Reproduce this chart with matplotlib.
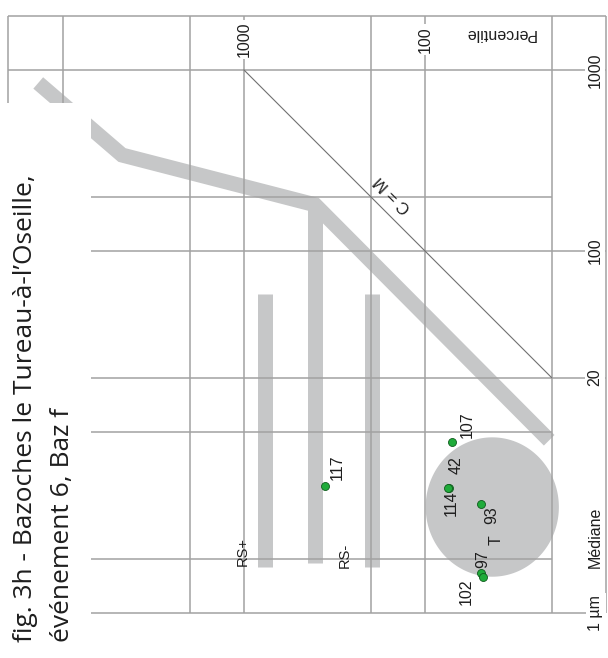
import numpy as np
import matplotlib.pyplot as plt
from matplotlib.patches import Rectangle

plt.rcParams['font.family'] = ['Liberation Sans', 'DejaVu Sans']

# Samples: one-percentile C and median M, both in µm
samples = ['107', '42', '114', '93', '97', '102', '117']
c_values = [71, 74, 75, 49, 49, 48, 357]
m_values = [8.8, 4.9, 4.9, 4.0, 1.67, 1.59, 5.0]

# Passega reference pattern
trend_c = [13700, 4720, 405, 20.6]
trend_m = [848, 339, 180, 9.0]
rs_c = [766, 405, 196]
rs_m_low = [1.80, 1.89, 1.80]
rs_m_high = [58, 180, 58]
t_center_c = 42.5
t_center_m = 3.85
t_radius_c = 0.368   # half-width of zone T, in decades
t_radius_m = 0.385

# grid
grid_c = [20000, 10000, 2000, 1000, 200, 100, 20, 10]
grid_m_full = [2000, 1000, 100, 20, 1]
grid_m_short = [200, 10, 2]
top_ticks = [1000, 100]
right_ticks = [1000, 100, 20]

grid_col = '#a2a2a2'
band_col = '#c6c7c8'
txt_col = '#1e1e1e'

fig = plt.figure(figsize=(6.08, 6.58), dpi=100)
ax = fig.add_axes([8.5 / 608, 45 / 658, 597.5 / 608, 597.5 / 658])
ax.set_xscale('log')
ax.set_yscale('log')
ax.set_xlim(20000, 10)
ax.set_ylim(1, 2000)
ax.axis('off')

# grid lines
for c in grid_c:
    ax.plot([c, c], [1, 2000], color=grid_col, lw=1.1, zorder=3,
            clip_on=False, solid_capstyle='butt')
for m in grid_m_full:
    ax.plot([20000, 10], [m, m], color=grid_col, lw=1.1, zorder=3,
            clip_on=False, solid_capstyle='butt')
for m in grid_m_short:
    ax.plot([20000, 20], [m, m], color=grid_col, lw=1.1, zorder=3,
            clip_on=False, solid_capstyle='butt')

# C = M
ax.plot([1000, 20], [1000, 20], color='#707070', lw=0.8, zorder=3)
ax.text(150, 206, 'C = M', rotation=135, ha='center', va='center',
        fontsize=12, color=txt_col, zorder=4)

# bands
ax.plot(trend_c, trend_m, color=band_col, lw=10.8, zorder=2,
        solid_capstyle='butt', solid_joinstyle='miter')
for c, lo, hi in zip(rs_c, rs_m_low, rs_m_high):
    ax.plot([c, c], [lo, hi], color=band_col, lw=10.8, zorder=2,
            solid_capstyle='butt')

# zone T
th = np.linspace(0, 2 * np.pi, 200)
tc = 10 ** (np.log10(t_center_c) + t_radius_c * np.cos(th))
tm = 10 ** (np.log10(t_center_m) + t_radius_m * np.sin(th))
ax.fill(tc, tm, color=band_col, lw=0, zorder=2)
ax.text(40.6, 2.53, 'T', rotation=90, ha='center', va='center',
        fontsize=11.5, color=txt_col, zorder=4)

ax.text(1013, 2.2, 'RS+', rotation=90, ha='center', va='center',
        fontsize=10.5, color=txt_col, zorder=4)
ax.text(277, 2.09, 'RS-', rotation=90, ha='center', va='center',
        fontsize=10.5, color=txt_col, zorder=4)

# samples
ax.scatter(c_values, m_values, s=33, c='#1fab3a', edgecolors='#0e5a1c',
           linewidths=0.6, zorder=6)
label_offsets = {'107': (15, 17), '42': (7, 23), '114': (4, -15),
                 '93': (11, -11), '97': (2, 14), '102': (-16, -15),
                 '117': (12, 19)}
for name, c, m in zip(samples, c_values, m_values):
    ax.annotate(name, (c, m), xytext=label_offsets[name],
                textcoords='offset pixels', rotation=90, ha='center',
                va='center', fontsize=11.5, color=txt_col, zorder=7)

# axis labels
box = dict(facecolor='white', edgecolor='none', pad=1.5)
for c in top_ticks:
    ax.annotate(str(c), (c, 2000), xytext=(0, -24), textcoords='offset pixels',
                rotation=90, ha='center', va='center', fontsize=11.5,
                color=txt_col, bbox=box, zorder=5, annotation_clip=False)
for m in right_ticks:
    ax.annotate(str(m), (10, m), xytext=(-11, 0), textcoords='offset pixels',
                rotation=90, ha='center', va='center', fontsize=11.5,
                color=txt_col, bbox=box, zorder=5, annotation_clip=False)
ax.annotate('1 µm', (10, 1), xytext=(-10, 0), textcoords='offset pixels',
            rotation=90, ha='center', va='center', fontsize=11.5,
            color=txt_col, bbox=box, zorder=5, annotation_clip=False)
ax.text(0.9816, 0.127, 'Médiane', transform=ax.transAxes, rotation=90,
        ha='center', va='center', fontsize=11.5, color=txt_col, zorder=5)
ax.text(0.8226, 0.9707, 'Percentile', transform=ax.transAxes, rotation=180,
        ha='center', va='center', fontsize=11.5, color=txt_col, zorder=5)

# title block
fig.patches.append(Rectangle((0, 0), 91 / 608, (658 - 103) / 658,
                             transform=fig.transFigure, facecolor='white',
                             edgecolor='none', zorder=2))
fig.text(26 / 608, 16 / 658, 'fig. 3h - Bazoches le Tureau-à-l’Oseille,',
         rotation=90, ha='center', va='bottom', fontsize=19,
         family='Open Sans', color=txt_col, zorder=3)
fig.text(63 / 608, 16 / 658, 'événement 6, Baz f',
         rotation=90, ha='center', va='bottom', fontsize=19,
         family='Open Sans', color=txt_col, zorder=3)

fig.savefig('out.png', dpi=100)
